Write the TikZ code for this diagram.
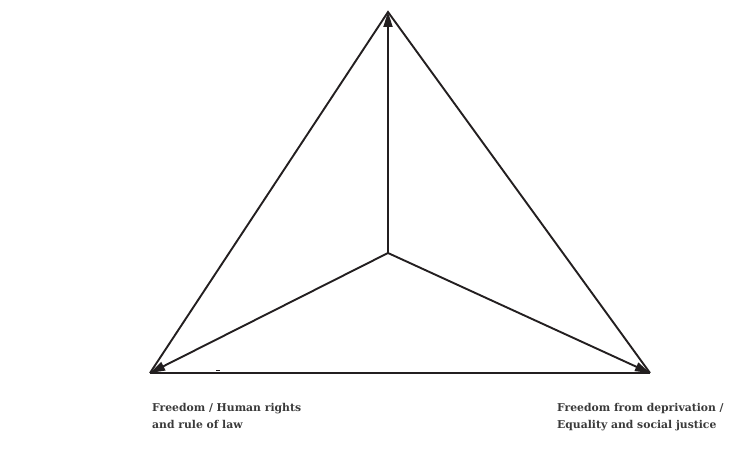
\documentclass[tikz,border=0pt]{standalone}
\usepackage{fontspec}
\setmainfont{DejaVu Serif}
\usepackage{tikz}
\usetikzlibrary{arrows.meta,positioning}
\definecolor{trink}{HTML}{231F20}
\definecolor{trtext}{HTML}{3A3A3A}
\tikzset{
  tredge/.style={draw=trink, line width=1.9pt},
  trbase/.style={draw=trink, line width=2.9pt},
  trarrow/.style={-{Triangle[length=15pt,width=9pt]}, draw=trink, line width=1.9pt},
  trlabel/.style={font=\bfseries\fontsize{10.8}{17}\selectfont, text=trtext,
                  align=left, anchor=north west, inner sep=0pt},
}
\begin{document}
\begin{tikzpicture}[x=1pt,y=1pt]
  \useasboundingbox (0,0) rectangle (734,448);
  \coordinate (apex)  at (388,436);
  \coordinate (left)  at (150,75);
  \coordinate (right) at (650,75);
  \coordinate (mid)   at (388,195);
  % outer triangle
  \draw[tredge] (left) -- (apex) -- (right);
  \draw[trbase] (left) -- (right);
  % spokes from the centre
  \draw[trarrow] (mid) -- (apex);
  \draw[trarrow] (mid) -- (left);
  \draw[trarrow] (mid) -- (right);
  \draw[trink, line width=0.8pt] (216,78) -- (220,78);
  % corner labels
  \node[trlabel] (lhr) at (152,45) {Freedom / Human rights\\and rule of law};
  \node[trlabel] (rsj) at (557,45) {Freedom from deprivation /\\Equality and social justice};
\end{tikzpicture}
\end{document}
